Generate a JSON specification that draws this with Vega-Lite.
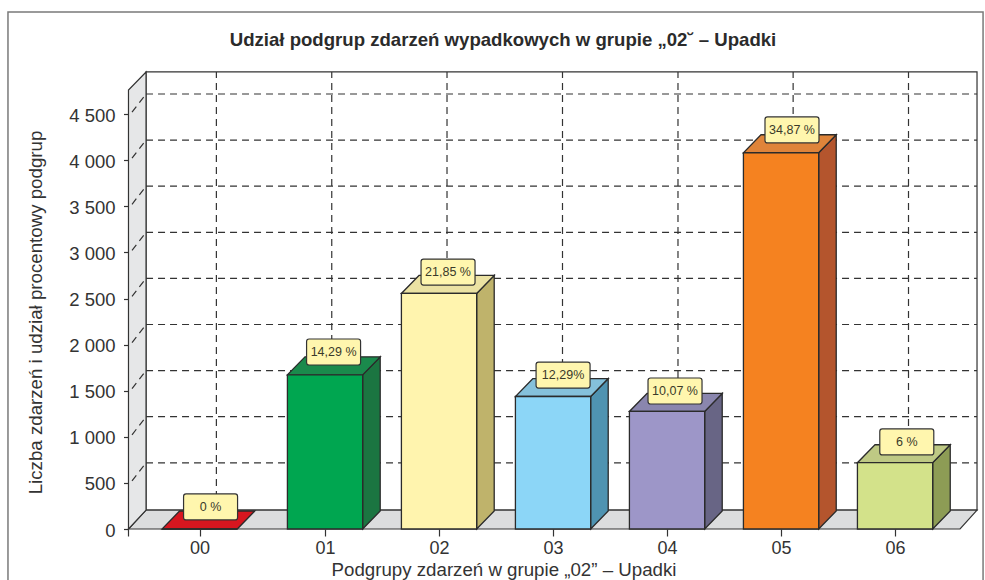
{
"$schema":"https://vega.github.io/schema/vega-lite/v6.json",
"width":985,"height":580,"padding":0,"autosize":"none",
"background":"white",
"title":{"text":"Udział podgrup zdarzeń wypadkowych w grupie „02˘ – Upadki","anchor":"middle","frame":"group","offset":0,"dy":65,"dx":10.5,"baseline":"alphabetic","font":"Liberation Sans","fontSize":18.6,"fontWeight":"bold","color":"#2b2b2b"},
"config":{"view":{"stroke":null}},
"datasets":{
"bars":[
{"group":"00","x0":-0.43,"x1":0.23,"value":0,"label":"0 %","labelX":-0.004,"labelY":239},
{"group":"01","x0":0.67,"x1":1.33,"value":1672,"label":"14,29 %","labelX":1.075,"labelY":1920},
{"group":"02","x0":1.67,"x1":2.33,"value":2555,"label":"21,85 %","labelX":2.079,"labelY":2787},
{"group":"03","x0":2.67,"x1":3.33,"value":1437,"label":"12,29%","labelX":3.088,"labelY":1670},
{"group":"04","x0":3.67,"x1":4.33,"value":1275,"label":"10,07 %","labelX":4.07,"labelY":1497},
{"group":"05","x0":4.67,"x1":5.33,"value":4081,"label":"34,87 %","labelX":5.096,"labelY":4328},
{"group":"06","x0":5.67,"x1":6.33,"value":719,"label":"6 %","labelX":6.103,"labelY":944}
],
"sides":[
{"group":"01","x":1.33,"low":0,"high":1672},{"group":"01","x":1.484,"low":195,"high":1867},
{"group":"02","x":2.33,"low":0,"high":2555},{"group":"02","x":2.484,"low":195,"high":2750},
{"group":"03","x":3.33,"low":0,"high":1437},{"group":"03","x":3.484,"low":195,"high":1632},
{"group":"04","x":4.33,"low":0,"high":1275},{"group":"04","x":4.484,"low":195,"high":1470},
{"group":"05","x":5.33,"low":0,"high":4081},{"group":"05","x":5.484,"low":195,"high":4276},
{"group":"06","x":6.33,"low":0,"high":719},{"group":"06","x":6.484,"low":195,"high":914}
],
"tops":[
{"group":"00","y":0,"left":-0.43,"right":0.23},{"group":"00","y":195,"left":-0.276,"right":0.384},
{"group":"01","y":1672,"left":0.67,"right":1.33},{"group":"01","y":1867,"left":0.824,"right":1.484},
{"group":"02","y":2555,"left":1.67,"right":2.33},{"group":"02","y":2750,"left":1.824,"right":2.484},
{"group":"03","y":1437,"left":2.67,"right":3.33},{"group":"03","y":1632,"left":2.824,"right":3.484},
{"group":"04","y":1275,"left":3.67,"right":4.33},{"group":"04","y":1470,"left":3.824,"right":4.484},
{"group":"05","y":4081,"left":4.67,"right":5.33},{"group":"05","y":4276,"left":4.824,"right":5.484},
{"group":"06","y":719,"left":5.67,"right":6.33},{"group":"06","y":914,"left":5.824,"right":6.484}
],
"hgrid":[
{"front":522,"back":718},{"front":1022,"back":1218},{"front":1522,"back":1718},{"front":2022,"back":2218},{"front":2522,"back":2718},{"front":3022,"back":3218},{"front":3522,"back":3718},{"front":4022,"back":4218},{"front":4522,"back":4718}
],
"vgrid":[{"x":0.047},{"x":1.059},{"x":2.07},{"x":3.083},{"x":4.096},{"x":5.106},{"x":6.118}]
},
"layer":[
{"data":{"values":[{"l":-1.781,"r":6.772,"t":5607,"b":-700}]},
 "mark":{"type":"rect","fill":"transparent","stroke":"#7a7a7a","strokeWidth":1.5},
 "encoding":{
  "x":{"field":"l","type":"quantitative","scale":{"domain":[-1.851,6.789],"nice":false,"zero":false},"axis":null},
  "x2":{"field":"r"},
  "y":{"field":"t","type":"quantitative","scale":{"domain":[-553.1,5737.5],"nice":false,"zero":false},"axis":null},
  "y2":{"field":"b"}}},
{"data":{"values":[{"l":-0.57,"r":6.719,"t":4957,"b":205}]},
 "mark":{"type":"rect","fill":"white","stroke":"#333333","strokeWidth":1.2},
 "encoding":{
  "x":{"field":"l","type":"quantitative","scale":{"domain":[-1.851,6.789],"nice":false,"zero":false},
   "axis":{"orient":"bottom","zindex":1,"title":"Podgrupy zdarzeń w grupie „02” – Upadki","titleX":503.5,"titleY":40,"titleBaseline":"middle","titleFont":"Liberation Sans","titleFontSize":18.7,"titleFontWeight":"normal","titleColor":"#333333","offset":-51,"domain":false,"grid":false,"values":[-0.724,-0.1,1,2,3,4,5,6],"labelExpr":"datum.value<-0.5?'':'0'+round(max(datum.value,0))","labelFont":"Liberation Sans","labelFontSize":18,"labelColor":"#333333","labelPadding":3,"labelOverlap":false,"labelBound":false,"labelFlush":false,"tickColor":"#333333","tickSize":7,"tickWidth":1.2}},
  "x2":{"field":"r"},
  "y":{"field":"t","type":"quantitative","scale":{"domain":[-553.1,5737.5],"nice":false,"zero":false},
   "axis":{"orient":"left","zindex":1,"title":"Liczba zdarzeń i udział procentowy podgrup","titleX":-93.5,"titleY":312,"titleBaseline":"middle","titleFont":"Liberation Sans","titleFontSize":18.7,"titleFontWeight":"normal","titleColor":"#333333","offset":-128.5,"domain":false,"grid":false,"values":[0,500,1000,1500,2000,2500,3000,3500,4000,4500],"labelExpr":"replace(format(datum.value,','),',',' ')","labelFont":"Liberation Sans","labelFontSize":18.5,"labelColor":"#333333","labelPadding":8.5,"labelOffset":1,"labelOverlap":false,"labelBound":false,"labelFlush":false,"tickColor":"#333333","tickSize":5,"tickWidth":1.2}},
  "y2":{"field":"b"}}},
{"data":{"name":"hgrid"},
 "mark":{"type":"rule","stroke":"#333333","strokeWidth":1.2,"strokeDash":[7,5]},
 "encoding":{
  "x":{"datum":-0.57,"type":"quantitative","scale":{"domain":[-1.851,6.789],"nice":false,"zero":false},"axis":null},
  "x2":{"datum":6.719},
  "y":{"field":"back","type":"quantitative","scale":{"domain":[-553.1,5737.5],"nice":false,"zero":false},"axis":null}}},
{"data":{"name":"vgrid"},
 "mark":{"type":"rule","stroke":"#333333","strokeWidth":1.2,"strokeDash":[7,5]},
 "encoding":{
  "x":{"field":"x","type":"quantitative","scale":{"domain":[-1.851,6.789],"nice":false,"zero":false},"axis":null},
  "y":{"datum":205,"type":"quantitative","scale":{"domain":[-553.1,5737.5],"nice":false,"zero":false},"axis":null},
  "y2":{"datum":4957}}},
{"data":{"values":[{"y":0,"left":-0.724,"right":6.57},{"y":205,"left":-0.57,"right":6.719}]},
 "mark":{"type":"area","orient":"horizontal","fill":"#dcddde","stroke":"#333333","strokeWidth":1.2},
 "encoding":{
  "y":{"field":"y","type":"quantitative","scale":{"domain":[-553.1,5737.5],"nice":false,"zero":false},"axis":null},
  "x":{"field":"left","type":"quantitative","scale":{"domain":[-1.851,6.789],"nice":false,"zero":false},"axis":null},
  "x2":{"field":"right"}}},
{"data":{"values":[{"x":-0.724,"low":0,"high":4761},{"x":-0.57,"low":205,"high":4957}]},
 "mark":{"type":"area","orient":"vertical","fill":"#e6e7e8","stroke":"#333333","strokeWidth":1.2},
 "encoding":{
  "x":{"field":"x","type":"quantitative","scale":{"domain":[-1.851,6.789],"nice":false,"zero":false},"axis":null},
  "y":{"field":"low","type":"quantitative","scale":{"domain":[-553.1,5737.5],"nice":false,"zero":false},"axis":null},
  "y2":{"field":"high"}}},
{"data":{"name":"hgrid"},
 "mark":{"type":"rule","stroke":"#333333","strokeWidth":1.2,"strokeDash":[7,5]},
 "encoding":{
  "x":{"datum":-0.693,"type":"quantitative","scale":{"domain":[-1.851,6.789],"nice":false,"zero":false},"axis":null},
  "x2":{"datum":-0.57},
  "y":{"field":"front","type":"quantitative","scale":{"domain":[-553.1,5737.5],"nice":false,"zero":false},"axis":null},
  "y2":{"field":"back"}}},
{"data":{"name":"sides"},
 "mark":{"type":"area","orient":"vertical","stroke":"#2b2b2b","strokeWidth":1.3},
 "encoding":{
  "x":{"field":"x","type":"quantitative","scale":{"domain":[-1.851,6.789],"nice":false,"zero":false},"axis":null},
  "y":{"field":"low","type":"quantitative","scale":{"domain":[-553.1,5737.5],"nice":false,"zero":false},"axis":null},
  "y2":{"field":"high"},
  "color":{"field":"group","type":"nominal","legend":null,"scale":{"domain":["01","02","03","04","05","06"],"range":["#1b7541","#bfb36b","#4f93b1","#686585","#b4552d","#8d9c55"]}}}},
{"data":{"name":"tops"},
 "mark":{"type":"area","orient":"horizontal","stroke":"#2b2b2b","strokeWidth":1.3},
 "encoding":{
  "y":{"field":"y","type":"quantitative","scale":{"domain":[-553.1,5737.5],"nice":false,"zero":false},"axis":null},
  "x":{"field":"left","type":"quantitative","scale":{"domain":[-1.851,6.789],"nice":false,"zero":false},"axis":null},
  "x2":{"field":"right"},
  "color":{"field":"group","type":"nominal","legend":null,"scale":{"domain":["00","01","02","03","04","05","06"],"range":["#d7161f","#1a8a4c","#ebe2a3","#85c1db","#8a86ae","#df843a","#bec984"]}}}},
{"data":{"name":"bars"},
 "mark":{"type":"rect","stroke":"#2b2b2b","strokeWidth":1.3},
 "encoding":{
  "x":{"field":"x0","type":"quantitative","scale":{"domain":[-1.851,6.789],"nice":false,"zero":false},"axis":null},
  "x2":{"field":"x1"},
  "y":{"field":"value","type":"quantitative","scale":{"domain":[-553.1,5737.5],"nice":false,"zero":false},"axis":null},
  "y2":{"datum":0},
  "color":{"field":"group","type":"nominal","legend":null,"scale":{"domain":["00","01","02","03","04","05","06"],"range":["#d7161f","#00a650","#fff4ae","#8cd6f7","#9d96c8","#f58220","#d3e28a"]}}}},
{"data":{"name":"bars"},
 "mark":{"type":"rect","width":54,"height":26,"fill":"#fff6ae","stroke":"#333333","strokeWidth":1.2,"cornerRadius":2.5},
 "encoding":{
  "x":{"field":"labelX","type":"quantitative","scale":{"domain":[-1.851,6.789],"nice":false,"zero":false},"axis":null},
  "y":{"field":"labelY","type":"quantitative","scale":{"domain":[-553.1,5737.5],"nice":false,"zero":false},"axis":null}}},
{"data":{"name":"bars"},
 "mark":{"type":"text","font":"Liberation Sans","fontSize":12.5,"fill":"#3a3a2a","align":"center","baseline":"middle"},
 "encoding":{
  "x":{"field":"labelX","type":"quantitative","scale":{"domain":[-1.851,6.789],"nice":false,"zero":false},"axis":null},
  "y":{"field":"labelY","type":"quantitative","scale":{"domain":[-553.1,5737.5],"nice":false,"zero":false},"axis":null},
  "text":{"field":"label"}}}
],
"resolve":{"scale":{"color":"independent"},"axis":{"x":"independent","y":"independent"}}
}
